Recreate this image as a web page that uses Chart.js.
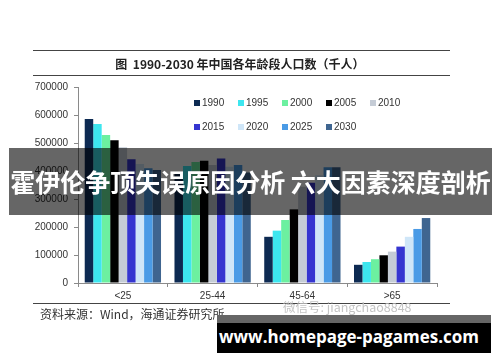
<!DOCTYPE html>
<html>
<head>
<meta charset="utf-8">
<script src="https://cdn.jsdelivr.net/npm/chart.js@4.4.1/dist/chart.umd.min.js"></script>
<style>
  body { margin: 0; background: #fff; }
  #wrap { position: relative; width: 500px; height: 362px; overflow: hidden; background: #fff; }
  #chart { position: absolute; left: 0; top: 0; }
  .rule { position: absolute; left: 33px; width: 417px; height: 0; border-top: 1.5px solid #444; }
  #title { position: absolute; left: 0; width: 480px; top: 55px; text-align: center;
           font: bold 12px "Noto Sans CJK SC", sans-serif; color: #222; white-space: nowrap; }
  #source { position: absolute; left: 40px; top: 305px; font: 12px "Noto Sans CJK SC", sans-serif; color: #333; white-space: nowrap; }
  #wm { position: absolute; left: 283px; top: 297px; font: 12.5px "Noto Sans CJK SC", sans-serif; color: #c4c4c4; white-space: nowrap; }
  #banner { position: absolute; left: 9px; top: 148px; width: 483px; height: 67px; background: rgba(0,0,0,0.6);
            color: #fff; font: bold 25px "Noto Sans CJK SC", sans-serif; line-height: 67px; text-align: center; white-space: nowrap; }
  #site1 { position: absolute; left: 217px; top: 315px; width: 274px; height: 8px; background: #666; }
  #site { position: absolute; left: 217px; top: 323px; width: 272px; height: 30px; background: #000; padding-left: 2px;
          color: #fff; font: bold 17px "Open Sans", sans-serif; line-height: 28px; text-align: left; white-space: nowrap; }
  .lg { position: absolute; font: 10px "Liberation Sans", Arial, sans-serif; color: #333; white-space: nowrap; line-height: 12px; }
  .lg i { display: inline-block; width: 6px; height: 6px; margin-right: 2px; vertical-align: 0; }
</style>
</head>
<body>
<div id="wrap">
  <canvas id="chart" width="500" height="362"></canvas>
  <div class="rule" style="top:50px"></div>
  <div id="title">图&nbsp; 1990-2030 年中国各年龄段人口数（千人）</div>
  <div class="rule" style="top:75px"></div>
  <div class="rule" style="top:303px"></div>
  <div id="source">资料来源：Wind，海通证券研究所</div>
  <div id="wm">微信号: jiangchao8848</div>
  <div id="legend"></div>
  <div id="banner">霍伊伦争顶失误原因分析 六大因素深度剖析</div>
  <div id="site1"></div>
  <div id="site">www.homepage-pagames.com</div>
</div>
<script>
// age groups and years
const ages = ["<25", "25-44", "45-64", ">65"];
const years = ["1990", "1995", "2000", "2005", "2010", "2015", "2020", "2025", "2030"];

// population by age group, thousands
const p1990 = [586000, 395000, 165000, 65000];
const p1995 = [568000, 418000, 187000, 75000];
const p2000 = [529000, 432000, 225000, 85000];
const p2005 = [510000, 437000, 263000, 99000];
const p2010 = [485000, 421000, 344000, 112000];
const p2015 = [442000, 445000, 358000, 130000];
const p2020 = [425000, 415000, 385000, 165000];
const p2025 = [410000, 421000, 413000, 193000];
const p2030 = [404000, 395000, 413000, 232000];

const yTicks = [0, 100000, 200000, 300000, 400000, 500000, 600000, 700000];

const series = [p1990, p1995, p2000, p2005, p2010, p2015, p2020, p2025, p2030];
const colors = ["#0d2a52", "#3de6ef", "#6cf0a0", "#000000", "#c5ccd6",
                "#3535d0", "#cfe6f8", "#4a9be6", "#3f6590"];

const ctx = document.getElementById("chart").getContext("2d");
const axisColor = "#8a8a8a";

const chart = new Chart(ctx, {
    type: "bar",
    data: {
        labels: ages,
        datasets: series.map((d, i) => ({
            label: years[i],
            data: d,
            backgroundColor: colors[i],
            borderWidth: 0,
            barPercentage: 1.0,
            categoryPercentage: 0.85
        }))
    },
    options: {
        responsive: false,
        animation: false,
        layout: { padding: { left: 30, top: 87, right: 63, bottom: 61 } },
        scales: {
            x: {
                grid: { offset: true, drawOnChartArea: false, drawTicks: true, tickLength: 4, color: axisColor },
                border: { color: axisColor },
                ticks: { color: "#333", font: { family: "Liberation Sans", size: 10 }, padding: 3 },
                afterFit: s => { s.height = 18; }
            },
            y: {
                min: 0,
                max: yTicks[yTicks.length - 1],
                afterBuildTicks: s => { s.ticks = yTicks.map(v => ({ value: v })); },
                grid: { drawOnChartArea: false, drawTicks: true, tickLength: 4, color: axisColor },
                border: { color: axisColor },
                ticks: { color: "#333", font: { family: "Liberation Sans", size: 10 }, padding: 6,
                         callback: v => String(v) },
                afterFit: s => { s.width = 48; }
            }
        },
        plugins: {
            legend: { display: false },
            tooltip: { enabled: false }
        }
    }
});

// legend, five per row like the original
const legend = document.getElementById("legend");
chart.data.datasets.forEach((ds, i) => {
    const el = document.createElement("div");
    el.className = "lg";
    el.style.left = (194 + 44 * (i % 5)) + "px";
    el.style.top = (97 + 24 * Math.floor(i / 5)) + "px";
    el.innerHTML = `<i style="background:${ds.backgroundColor}"></i>${ds.label}`;
    legend.appendChild(el);
});
</script>
</body>
</html>
